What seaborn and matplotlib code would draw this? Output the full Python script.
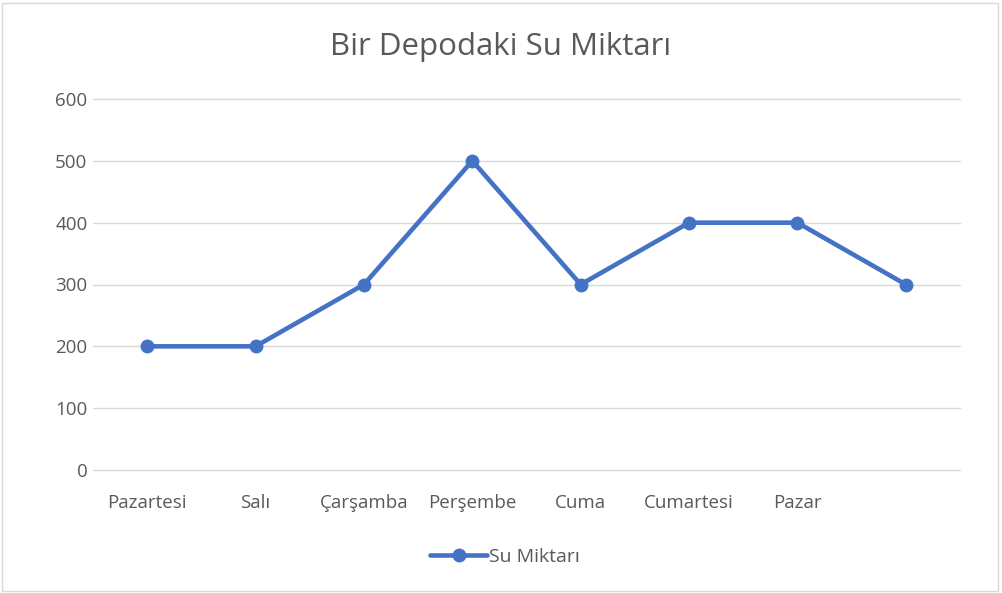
import pandas as pd
import seaborn as sns
import matplotlib.pyplot as plt
from matplotlib.patches import Rectangle

# Chart data
days = ["Pazartesi", "Salı", "Çarşamba", "Perşembe", "Cuma", "Cumartesi", "Pazar", ""]
water = [200, 200, 300, 500, 300, 400, 400, 300]

df = pd.DataFrame({"pos": range(len(days)), "Su Miktarı": water})

sns.set_style("white")
plt.rcParams["font.family"] = ["Open Sans", "DejaVu Sans"]

fig = plt.figure(figsize=(10.02, 5.93), dpi=100)
ax = fig.add_axes([93 / 1002, 1 - 470 / 593, (960 - 93) / 1002, (470 - 99) / 593])

sns.lineplot(data=df, x="pos", y="Su Miktarı", ax=ax, color="#4472C4",
             linewidth=3.3, marker="o", markersize=10, markeredgewidth=0,
             label="Su Miktarı", zorder=3)

ax.set_xlim(-0.5, len(days) - 0.5)
ax.set_ylim(0, 600)
ax.set_yticks(range(0, 601, 100))
ax.set_xticks(range(len(days)))
ax.set_xticklabels(days)
ax.tick_params(axis="both", length=0, labelsize=13.5, colors="#595959")
ax.tick_params(axis="x", pad=17)
ax.tick_params(axis="y", pad=4)
ax.grid(axis="y", color="#D9D9D9", linewidth=1)
for gl in ax.get_ygridlines():
    gl.set_clip_on(False)
ax.set_axisbelow(True)
for s in ax.spines.values():
    s.set_visible(False)
ax.set_xlabel("")
ax.set_ylabel("")

fig.text(0.5, 1 - 47 / 593, "Bir Depodaki Su Miktarı", ha="center", va="center",
         fontsize=22.5, color="#595959")

leg = ax.legend(loc="center", bbox_to_anchor=((505 - 93) / 867, (470 - 557) / 371),
                frameon=False, fontsize=14, handlelength=2.9, handletextpad=0.1)
for t in leg.get_texts():
    t.set_color("#595959")

fig.patches.append(Rectangle((0.002, 0.003), 0.994, 0.992, transform=fig.transFigure,
                             fill=False, edgecolor="#D9D9D9", linewidth=1))

fig.savefig("out.png", dpi=100)
